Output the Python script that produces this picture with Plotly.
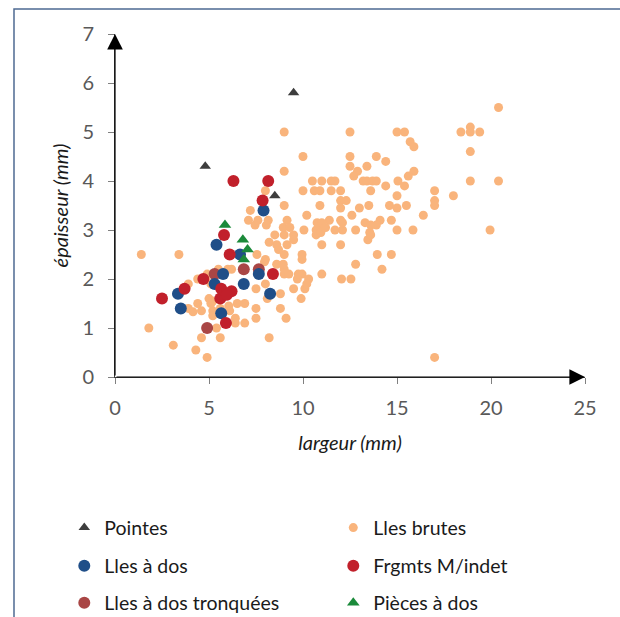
import plotly.graph_objects as go

# ---------------- data (largeur mm, épaisseur mm) ----------------
brutes_x = [1.4, 1.8, 3.1, 4.9, 3.4, 4.3, 4.6, 5.6, 8.2, 5.4, 6.9, 6.4, 7.5, 9.1, 4.4, 3.9, 4.6, 5.2, 5.2, 6.1,
            6.5, 6.9, 7.5, 8.8, 6.05, 5.1, 5.0, 5.6, 7.5, 8.1, 8.8, 9.9, 9.5, 10.1, 8.6, 8.0, 8.0, 9.0, 9.25, 9.0,
            9.95, 10.3, 11.0, 9.95, 9.95, 9.0, 8.6, 9.0, 9.5, 10.7, 11.0, 10.9, 5.5, 6.0, 4.9, 4.4, 4.8, 5.1, 3.9,
            20.4, 9.0, 12.5, 15.0, 15.4, 18.4, 18.9, 18.9, 19.4, 15.7, 15.9, 18.9, 10.0, 12.5, 13.9, 14.4, 12.5,
            12.9, 13.4, 12.7, 15.9, 15.6, 9.0, 10.5, 11.0, 11.5, 11.7, 13.2, 13.4, 13.7, 13.9, 15.05, 18.9, 20.4,
            10.0, 10.6, 10.9, 11.5, 12.0, 13.6, 14.4, 15.4, 17.0, 18.0, 17.0, 17.0, 9.0, 10.9, 12.0, 12.3, 12.0,
            13.0, 13.5, 14.6, 15.0, 15.0, 15.5, 10.2, 11.4, 12.0, 12.6, 14.1, 14.7, 16.4, 9.15, 8.95, 9.3, 10.05,
            10.7, 10.95, 11.7, 12.1, 12.8, 13.9, 15.0, 15.85, 19.95, 13.55, 17.0, 13.95, 14.7, 14.2, 12.8, 12.05,
            12.55, 13.45, 13.6, 12.0, 9.7, 10.2, 8.0, 7.2, 7.1, 7.45, 8.15, 8.05, 7.6, 8.5, 8.2, 8.7, 7.55, 7.95,
            6.2, 10.75, 11.0, 11.2, 12.1, 13.3, 13.6, 9.5, 9.15, 8.95, 9.75, 5.2, 6.4, 4.15]
brutes_y = [2.5, 1.0, 0.65, 0.4, 2.5, 0.55, 0.8, 0.8, 0.8, 1.0, 1.1, 1.2, 1.2, 1.2, 1.5, 1.4, 1.35, 1.35, 1.25, 1.35,
            1.5, 1.5, 1.4, 1.4, 1.45, 1.5, 1.6, 1.4, 1.8, 1.6, 1.7, 1.6, 1.8, 1.8, 2.3, 2.4, 1.9, 2.1, 2.1, 2.2,
            2.1, 2.0, 2.1, 2.5, 2.4, 2.5, 2.7, 2.9, 2.9, 2.9, 2.7, 3.0, 2.2, 2.2, 2.1, 2.0, 2.0, 1.9, 1.9,
            5.5, 5.0, 5.0, 5.0, 5.0, 5.0, 5.1, 5.0, 5.0, 4.8, 4.7, 4.6, 4.5, 4.5, 4.5, 4.4, 4.3,
            4.2, 4.3, 4.1, 4.2, 4.1, 4.2, 4.0, 4.0, 4.0, 4.0, 4.0, 4.0, 4.0, 4.0, 4.0, 4.0, 4.0,
            3.8, 3.8, 3.8, 3.8, 3.8, 3.8, 3.9, 3.9, 3.8, 3.7, 3.6, 3.5, 3.5, 3.5, 3.6, 3.6, 3.45,
            3.45, 3.5, 3.5, 3.7, 3.45, 3.5, 3.3, 3.2, 3.2, 3.3, 3.2, 3.2, 3.3, 3.2, 3.05, 3.05, 3.0,
            3.0, 2.95, 3.0, 3.0, 3.0, 3.1, 3.0, 3.0, 3.0, 2.95, 0.4, 2.5, 2.5, 2.2, 2.3, 2.0,
            2.0, 2.8, 2.9, 2.7, 2.0, 1.9, 3.8, 3.4, 3.2, 3.1, 3.2, 3.1, 3.2, 2.9, 2.75, 2.6, 2.5, 2.35,
            2.2, 3.15, 3.15, 3.05, 3.15, 3.15, 3.1, 2.8, 2.7, 2.3, 2.1, 1.55, 1.1, 1.33]

dos_x = [7.9, 5.4, 6.65, 5.75, 7.65, 5.3, 6.85, 3.35, 8.25, 3.5, 5.65]
dos_y = [3.4, 2.7, 2.5, 2.1, 2.1, 1.9, 1.9, 1.7, 1.7, 1.4, 1.3]

frg_x = [6.3, 8.15, 7.85, 5.8, 6.1, 8.4, 4.7, 3.7, 2.5, 5.65, 6.2, 5.6, 5.95, 5.9]
frg_y = [4.0, 4.0, 3.6, 2.9, 2.5, 2.1, 2.0, 1.8, 1.6, 1.8, 1.75, 1.6, 1.68, 1.1]

tronq_x = [5.3, 6.85, 7.65, 4.9]
tronq_y = [2.1, 2.2, 2.2, 1.0]

pieces_x = [5.85, 6.8, 7.05, 6.85]
pieces_y = [3.1, 2.8, 2.6, 2.4]

pointes_x = [4.8, 9.5, 8.5]
pointes_y = [4.3, 5.8, 3.7]

x_ticks = [0, 5, 10, 15, 20, 25]
y_ticks = [0, 1, 2, 3, 4, 5, 6, 7]

FONT = "Lato"

fig = go.Figure()
fig.add_trace(go.Scatter(x=brutes_x, y=brutes_y, mode="markers", name="Lles brutes", legend="legend",
                         marker=dict(color="#F9B47C", size=9, symbol="circle", line=dict(width=0))))
fig.add_trace(go.Scatter(x=tronq_x, y=tronq_y, mode="markers", name="Lles à dos tronquées", legend="legend3",
                         marker=dict(color="#A94645", size=12, symbol="circle", line=dict(width=0))))
fig.add_trace(go.Scatter(x=dos_x, y=dos_y, mode="markers", name="Lles à dos", legend="legend2",
                         marker=dict(color="#1F4E88", size=12, symbol="circle", line=dict(width=0))))
fig.add_trace(go.Scatter(x=frg_x, y=frg_y, mode="markers", name="Frgmts M/indet", legend="legend2",
                         marker=dict(color="#C1202B", size=12, symbol="circle", line=dict(width=0))))
fig.add_trace(go.Scatter(x=pieces_x, y=pieces_y, mode="markers", name="Pièces à dos", legend="legend3",
                         marker=dict(color="#1B8A3A", size=11, symbol="triangle-up", line=dict(width=0))))
fig.add_trace(go.Scatter(x=pointes_x, y=pointes_y, mode="markers", name="Pointes", legend="legend",
                         marker=dict(color="#3D3D3D", size=10, symbol="triangle-up", line=dict(width=0))))

leg_common = dict(orientation="h", xanchor="left", yanchor="middle", x=-0.1079,
                  font=dict(family=FONT, size=19.5, color="#1a1a1a"),
                  entrywidth=224, entrywidthmode="pixels", bgcolor="rgba(0,0,0,0)")

fig.update_layout(
    width=620, height=617,
    margin=dict(l=115, r=35, t=34, b=240, pad=0, autoexpand=False),
    paper_bgcolor="white", plot_bgcolor="white",
    font=dict(family=FONT),
    legend=dict(**leg_common, y=-0.44, traceorder="reversed"),
    legend2=dict(**leg_common, y=-0.551),
    legend3=dict(**leg_common, y=-0.659),
    xaxis=dict(range=[0, 25], tickvals=x_ticks, showgrid=False, zeroline=False, automargin=False,
               showline=True, linecolor="#404040", linewidth=1,
               ticks="outside", ticklen=6, tickcolor="#808080", tickwidth=1,
               tickfont=dict(family=FONT, size=20, color="#595959"), ticklabelstandoff=7,
               title=dict(text="<i>largeur (mm)</i>", font=dict(family=FONT, size=20, color="#1a1a1a"),
                          standoff=17)),
    yaxis=dict(range=[0, 7], tickvals=y_ticks, showgrid=False, zeroline=False, automargin=False,
               showline=True, linecolor="#404040", linewidth=1,
               ticks="outside", ticklen=6, tickcolor="#808080", tickwidth=1,
               tickfont=dict(family=FONT, size=20, color="#595959"), ticklabelstandoff=10,
               title=dict(text="<i>épaisseur (mm)</i>", font=dict(family=FONT, size=20, color="#1a1a1a"),
                          standoff=8)),
    shapes=[dict(type="rect", xref="paper", yref="paper", x0=-0.2149, x1=1.3, y0=-0.8, y1=1.0729,
                 line=dict(color="#4E6A92", width=1.5), fillcolor="rgba(0,0,0,0)", layer="below")],
    annotations=[
        dict(x=25, y=0, ax=0, ay=0, xref="x", yref="y", axref="x", ayref="y", text="",
             showarrow=True, arrowhead=2, arrowsize=2.6, arrowwidth=1.2, arrowcolor="black"),
        dict(x=0, y=7, ax=0, ay=0, xref="x", yref="y", axref="x", ayref="y", text="",
             showarrow=True, arrowhead=2, arrowsize=2.6, arrowwidth=1.2, arrowcolor="black"),
    ],
)

fig.write_html("out.html", config={"displayModeBar": False},
               post_script="document.body.style.margin='0px';document.body.style.overflow='hidden';")
